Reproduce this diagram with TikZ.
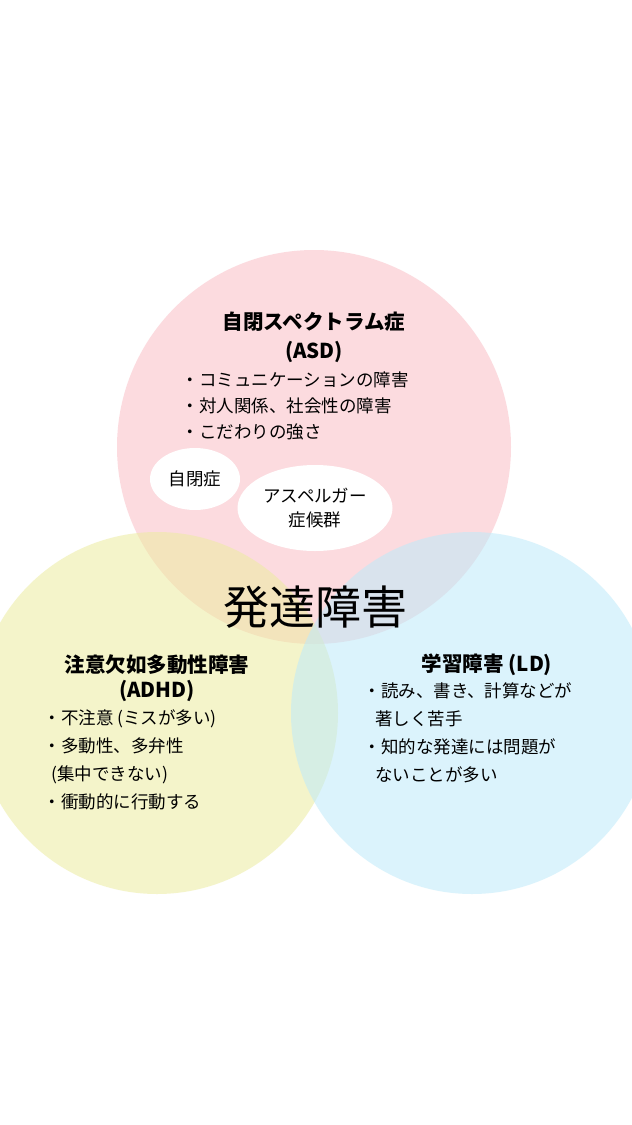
\documentclass[tikz,border=0pt]{standalone}
\usepackage{fontspec}
\usetikzlibrary{shapes.geometric}
\setmainfont{Noto Sans CJK JP}
\begin{document}
\begin{tikzpicture}[x=1pt,y=-1pt,
  circ/.style={fill opacity=0.55,draw=none},
  ttl/.style={font=\fontsize{20.5}{22}\selectfont\bfseries},
  lst/.style={font=\fontsize{17.5}{26}\selectfont,align=left,anchor=north west},
  oval/.style={ellipse,fill=white,draw=none}]
\useasboundingbox (0,0) rectangle (632,1125);
\fill[white] (0,0) rectangle (632,1125);
\fill[circ,fill={rgb,255:red,250;green,190;blue,198}] (314,447) circle (197);
\fill[circ,fill={rgb,255:red,236;green,236;blue,160}] (157,713) circle (181);
\fill[circ,fill={rgb,255:red,190;green,234;blue,250}] (472,713) circle (181);
\node[ttl] (asd) at (314,322) {自閉スペクトラム症};
\node[ttl] (asd2) at (314,352) {(ASD)};
\node[lst] (asdl) at (178,368) {・コミュニケーションの障害\\・対人関係、社会性の障害\\・こだわりの強さ};
\node[oval,minimum width=90,minimum height=62,inner sep=0,font=\fontsize{17.5}{18}\selectfont] (jh) at (195,479) {自閉症};
\node[oval,minimum width=155,minimum height=86,inner sep=0,align=center,font=\fontsize{17.5}{24}\selectfont] (asp) at (315,508) {アスペルガー\\症候群};
\node[ttl] (adhd) at (157,665) {注意欠如多動性障害};
\node[ttl] (adhd2) at (157,691) {(ADHD)};
\node[lst,font=\fontsize{17.5}{28}\selectfont] (adl) at (40,706) {・不注意 (ミスが多い)\\・多動性、多弁性\\\ \ (集中できない)\\・衝動的に行動する};
\node[ttl] (ld) at (487,665) {学習障害 (LD)};
\node[lst,font=\fontsize{17.5}{28}\selectfont] (ldl) at (360,679) {・読み、書き、計算などが\\\ \ \ 著しく苦手\\・知的な発達には問題が\\\ \ \ ないことが多い};
\node[font=\fontsize{46}{50}\selectfont] (main) at (315,607) {発達障害};
\end{tikzpicture}
\end{document}
